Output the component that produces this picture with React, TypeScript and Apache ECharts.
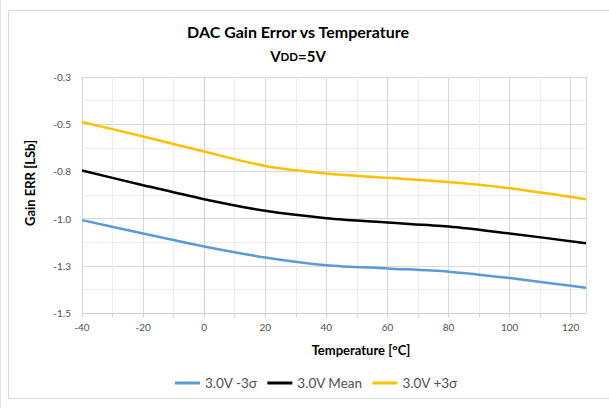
import { useEffect, useRef } from 'react';
import * as echarts from 'echarts';

// Temperature points (°C)
const temperatures = [-40, -20, 0, 20, 40, 60, 80, 100, 125];
// Gain error [LSb]
const minus3Sigma = [-1.008, -1.079, -1.148, -1.206, -1.247, -1.264, -1.281, -1.315, -1.366];
const meanValues = [-0.745, -0.823, -0.897, -0.959, -0.998, -1.021, -1.042, -1.079, -1.13];
const plus3Sigma = [-0.488, -0.565, -0.645, -0.721, -0.761, -0.784, -0.806, -0.839, -0.897];

const seriesNames = ['3.0V -3σ', '3.0V Mean', '3.0V +3σ'];
const seriesColors = ['#5B9BD5', '#000000', '#FFC000'];
const seriesValues = [minus3Sigma, meanValues, plus3Sigma];

const titleText = 'DAC Gain Error vs Temperature';
const xAxisName = 'Temperature [°C]';
const yAxisName = 'Gain ERR [LSb]';

const FONT = 'Lato, "Noto Sans", sans-serif';

export default function App() {
  const ref = useRef<HTMLDivElement>(null);

  useEffect(() => {
    if (!ref.current) return;
    const chart = echarts.init(ref.current, null, { renderer: 'svg' });

    const option: any = {
      animation: false,
      backgroundColor: '#ffffff',
      textStyle: { fontFamily: FONT },
      title: [
        {
          text: titleText,
          left: 293,
          top: 18,
          textAlign: 'center',
          textStyle: { fontFamily: FONT, fontSize: 16, fontWeight: 'bold', color: '#000000' },
        },
        {
          text: '{v|V}{d|DD}{v|=5V}',
          left: 293,
          top: 40,
          textAlign: 'center',
          textStyle: {
            fontFamily: FONT,
            rich: {
              v: { fontFamily: FONT, fontSize: 15, fontWeight: 'bold', color: '#000000', verticalAlign: 'bottom', lineHeight: 18 },
              d: { fontFamily: FONT, fontSize: 11.5, fontWeight: 'bold', color: '#000000', verticalAlign: 'bottom', lineHeight: 18, padding: [0, 0, 1, 0] },
            },
          },
        },
      ],
      graphic: [
        {
          type: 'rect',
          silent: true,
          shape: { x: 8.5, y: 10.5, width: 620, height: 388 },
          style: { fill: 'none', stroke: '#D9D9D9', lineWidth: 1 },
        },
        {
          type: 'line',
          silent: true,
          shape: { x1: 0.5, y1: 0, x2: 0.5, y2: 408 },
          style: { stroke: '#E3E3E3', lineWidth: 1 },
        },
      ],
      legend: {
        left: 170,
        top: 371,
        icon: 'rect',
        itemWidth: 25,
        itemHeight: 3,
        itemGap: 10,
        data: seriesNames,
        textStyle: { fontFamily: FONT, fontSize: 13.5, color: '#505050' },
      },
      grid: {
        left: 82,
        right: 23,
        top: 77,
        bottom: 95,
        containLabel: false,
        outerBoundsMode: 'none',
      },
      xAxis: {
        type: 'value',
        min: -40,
        max: 125,
        interval: 10,
        name: xAxisName,
        nameLocation: 'middle',
        nameGap: 30,
        nameTextStyle: { fontFamily: FONT, fontSize: 13, fontWeight: 'bold', color: '#000000', padding: [0, 0, 0, 54] },
        axisLine: { show: true, lineStyle: { color: '#D0D0D0', width: 1 } },
        axisTick: { show: true, inside: false, length: 4, lineStyle: { color: '#D0D0D0' } },
        axisLabel: {
          margin: 9,
          fontFamily: FONT,
          fontSize: 10,
          color: '#505050',
          showMaxLabel: false,
          formatter: (v: number) => (v % 20 === 0 ? String(v) : ''),
        },
        splitLine: { show: true, lineStyle: { color: ['#D9D9D9', '#EDEDED'], width: 1 } },
      },
      yAxis: [
        {
          type: 'value',
          min: -1.5,
          max: -0.25,
          interval: 0.25,
          name: yAxisName,
          nameLocation: 'middle',
          nameGap: 46,
          nameRotate: 90,
          nameTextStyle: { fontFamily: FONT, fontSize: 13, fontWeight: 'bold', color: '#000000', padding: [0, 0, 0, 24] },
          axisLine: { show: true, lineStyle: { color: '#D0D0D0', width: 1 } },
          axisTick: { show: true, inside: false, length: 4, lineStyle: { color: '#D0D0D0' } },
          axisLabel: {
            margin: 11,
            fontFamily: FONT,
            fontSize: 10,
            color: '#505050',
            formatter: (v: number) => v.toFixed(1),
          },
          splitLine: { show: true, lineStyle: { color: '#D9D9D9', width: 1 } },
          minorTick: { show: false, splitNumber: 2 },
          minorSplitLine: { show: true, lineStyle: { color: '#EDEDED', width: 1 } },
        },
        {
          type: 'value',
          position: 'right',
          min: -1.5,
          max: -0.25,
          interval: 0.25,
          axisLine: { show: true, onZero: false, lineStyle: { color: '#D9D9D9', width: 1 } },
          axisTick: { show: false },
          axisLabel: { show: false },
          splitLine: { show: false },
        },
      ],
      series: seriesNames.map((name, i) => ({
        name,
        type: 'line',
        yAxisIndex: 0,
        smooth: 0.3,
        symbol: 'none',
        showSymbol: false,
        lineStyle: { color: seriesColors[i], width: 2.5 },
        itemStyle: { color: seriesColors[i] },
        data: temperatures.map((t, j) => [t, seriesValues[i][j]]),
      })),
    };

    chart.setOption(option);
    return () => {
      chart.dispose();
    };
  }, []);

  return (
    <div
      ref={ref}
      style={{ position: 'absolute', left: 0, top: 0, width: 609, height: 408, background: '#ffffff' }}
    />
  );
}
